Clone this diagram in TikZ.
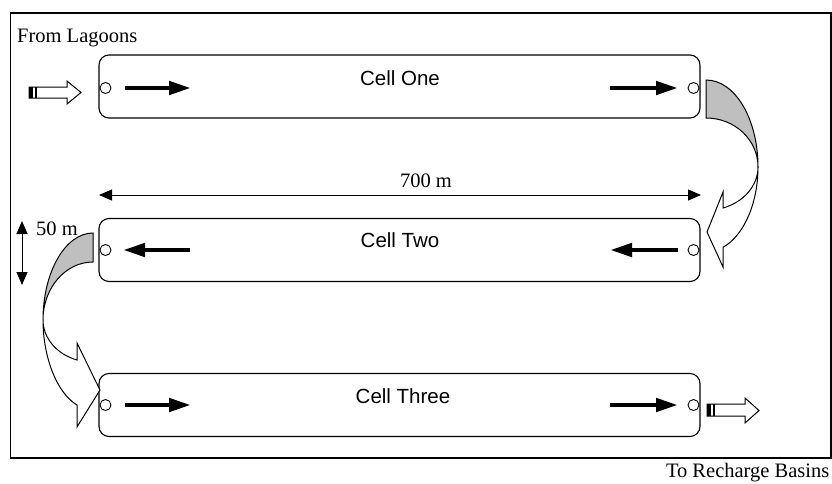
\documentclass[tikz,border=0pt]{standalone}
\usepackage{fontspec}
\setmainfont{Liberation Serif}
\newfontfamily\labelsans{Liberation Sans}
\usetikzlibrary{arrows.meta}
\tikzset{
  cellbox/.style={draw, line width=1.1pt, rounded corners=10pt, minimum width=601pt, minimum height=63pt, inner sep=0pt},
  port/.style={draw, circle, line width=0.9pt, minimum size=11pt, inner sep=0pt, fill=white},
  celltext/.style={anchor=base, font=\labelsans\fontsize{20.5}{24}\selectfont, inner sep=0pt},
  serif/.style={anchor=base, font=\fontsize{20.5}{24}\selectfont, inner sep=0pt},
  flowarrow/.style={line width=4.6pt, -{Triangle[length=22pt,width=13pt]}},
  dimline/.style={line width=1pt, {Triangle[length=13pt,width=11pt]}-{Triangle[length=13pt,width=11pt]}},
  hollow/.style={draw, line width=1pt, fill=white, line join=miter},
  shaded/.style={draw, line width=1pt, fill=gray!50},
}
\begin{document}
\begin{tikzpicture}[x=1pt,y=-1pt]
\useasboundingbox (0,0) rectangle (832,483);
% outer frame
\draw[line width=1.1pt] (10.5,13) rectangle (831,458);
% cells
\node[cellbox] (c1) at (399.5,86.5) {};
\node[cellbox] (c2) at (399.5,250) {};
\node[cellbox] (c3) at (399.5,405) {};
\node[celltext] (t1) at (400,85) {Cell One};
\node[celltext] (t2) at (400,247) {Cell Two};
\node[celltext] (t3) at (403,403) {Cell Three};
% ports
\node[port] (p1l) at (105.5,88) {};
\node[port] (p1r) at (693.5,88) {};
\node[port] (p2l) at (105.5,250) {};
\node[port] (p2r) at (693.5,250) {};
\node[port] (p3l) at (105.5,405) {};
\node[port] (p3r) at (693.5,405) {};
% flow arrows inside cells
\coordinate (a1s) at (125,88);  \coordinate (a1e) at (191,88);
\coordinate (a2s) at (610,88);  \coordinate (a2e) at (678,88);
\coordinate (b1s) at (190,250); \coordinate (b1e) at (123,250);
\coordinate (b2s) at (678,250); \coordinate (b2e) at (610,250);
\coordinate (d1s) at (125,405); \coordinate (d1e) at (191,405);
\coordinate (d2s) at (610,405); \coordinate (d2e) at (678,405);
\draw[flowarrow] (a1s) -- (a1e);
\draw[flowarrow] (a2s) -- (a2e);
\draw[flowarrow] (b1s) -- (b1e);
\draw[flowarrow] (b2s) -- (b2e);
\draw[flowarrow] (d1s) -- (d1e);
\draw[flowarrow] (d2s) -- (d2e);
% inlet hollow arrow
\path[hollow] (29,87) -- (67,87) -- (67,81) -- (81,92.5) -- (67,104) -- (67,98) -- (29,98) -- cycle;
\fill (29,87) rectangle (33,98);
\fill (34.5,87) rectangle (36.5,98);
% outlet hollow arrow
\path[hollow] (707,404) -- (745,404) -- (745,398) -- (759,410.5) -- (745,423) -- (745,416) -- (707,416) -- cycle;
\fill (707,404) rectangle (711,416);
\fill (712.5,404) rectangle (714.5,416);
% right curved arrow (cell one -> cell two)
\path[hollow] (758,167) .. controls (758,185.5) and (744,202) .. (723,208)
  -- (723,192) -- (707,232) -- (723,267) -- (723,247.3)
  .. controls (744,235.5) and (758,203) .. (758,167) -- cycle;
\path[shaded] (706,80) .. controls (735,80) and (758,119) .. (758,167)
  .. controls (758,140) and (735,118) .. (706,118) -- cycle;
% left curved arrow (cell two -> cell three)
\path[hollow] (43,320) .. controls (43,338) and (56.8,354.3) .. (77,360)
  -- (77,343) -- (100,390) -- (77,427) -- (77,405)
  .. controls (56.8,393) and (43,357) .. (43,320) -- cycle;
\path[shaded] (93,233) .. controls (65.4,233) and (43,272) .. (43,320)
  .. controls (43,288) and (65.4,262) .. (93,262) -- cycle;
% dimensions
\coordinate (w1) at (99,195); \coordinate (w2) at (701,195);
\draw[dimline] (w1) -- (w2);
\node[serif] (wl) at (426,187) {700 m};
\coordinate (h1) at (22,221); \coordinate (h2) at (22,285);
\draw[dimline] (h1) -- (h2);
\node[serif, anchor=base west] (hl) at (36,235) {50 m};
% labels
\node[serif, anchor=base west] (from) at (17,42) {From Lagoons};
\node[serif, anchor=base east] (to) at (829.5,477) {To Recharge Basins};
\end{tikzpicture}
\end{document}
